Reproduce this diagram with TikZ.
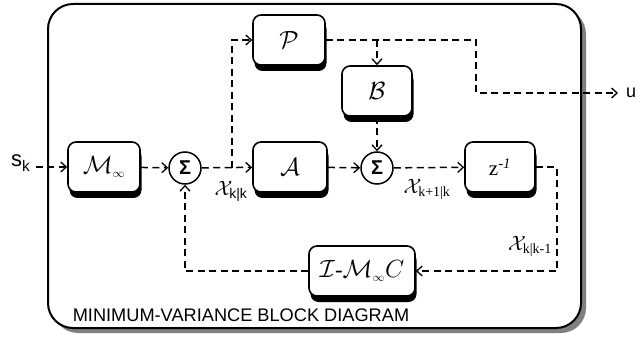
\documentclass[tikz,border=0pt]{standalone}
\usepackage{fontspec}
\setmainfont{Liberation Sans}
\newfontfamily\tnr{Liberation Serif}
\usetikzlibrary{arrows.meta,shadows}
\tikzset{
  blk/.style={draw, rectangle, rounded corners=8pt, line width=1.6pt, fill=white,
    minimum width=72pt, minimum height=50pt, inner sep=0pt,
    drop shadow={shadow xshift=1.5pt, shadow yshift=-6pt, fill=black, opacity=1},
    font=\fontsize{23}{26}\selectfont},
  sumnode/.style={draw, circle, line width=1.5pt, fill=white, minimum size=32pt, inner sep=0pt,
    font=\fontsize{20}{22}\selectfont\bfseries},
  arr/.style={line width=1.5pt, dash pattern=on 7pt off 4.5pt,
    -{Straight Barb[length=5.5pt,width=10pt,line width=1.3pt]}},
  lbl/.style={inner sep=0pt, font=\fontsize{18}{20}\selectfont},
  xl/.style={inner sep=0pt, font=\fontsize{22}{24}\selectfont}
}
\begin{document}
\begin{tikzpicture}[x=1pt,y=-1pt]
\useasboundingbox (0,0) rectangle (637,339);
% outer frame
\draw[line width=2pt, rounded corners=25pt, fill=white,
  drop shadow={shadow xshift=5pt, shadow yshift=-5pt, fill=black!50, opacity=1}]
  (48,4) rectangle (581,328);
% blocks
\node[blk] (M) at (104,167) {$\mathcal{M}_{\scriptscriptstyle\infty}$};
\node[blk, minimum width=74pt] (A) at (290,167) {$\mathcal{A}$};
\node[blk, minimum width=70pt, font=\fontsize{21}{24}\selectfont] (Z) at (500,167) {{\tnr z\textsuperscript{\itshape -1}}};
\node[blk] (P) at (289,40) {$\mathcal{P}$};
\node[blk, minimum width=70pt] (B) at (377,91) {$\mathcal{B}$};
\node[blk, minimum width=106pt] (IMC) at (362,271) {$\mathcal{I}\mbox{\tnr -}\mathcal{M}_{\scriptscriptstyle\infty}C$};
% summing junctions
\node[sumnode] (S1) at (185,168) {Σ};
\node[sumnode] (S2) at (377,168) {Σ};
% outside labels
\node[lbl, anchor=base west, font=\fontsize{22}{24}\selectfont] (sk) at (11,167) {s\textsubscript{k}};
\node[lbl, anchor=west] (u) at (626,93) {u};
% signal labels
\node[xl] (xkk) at (231,191) {$\mathcal{X}_{\hbox{\fontsize{14}{14}\selectfont k|k}}$};
\node[xl] (xk1k) at (427,189) {$\mathcal{X}_{\hbox{\fontsize{14}{14}\selectfont\tnr k+1|k}}$};
\node[xl] (xkk1) at (530,246) {$\mathcal{X}_{\hbox{\fontsize{14}{14}\selectfont\tnr k|k-1}}$};
\node[anchor=base, inner sep=0pt, font=\fontsize{18.2}{20}\selectfont] (title) at (241,321) {MINIMUM-VARIANCE BLOCK DIAGRAM};
% coordinates
\coordinate (br) at (232,168);
\coordinate (pu) at (476,93);
\coordinate (fb) at (557,271);
% connectors
\draw[arr] ([xshift=5pt]sk.east |- M.west) -- (M.west);
\draw[arr] (M) -- (S1);
\draw[arr] (S1) -- (A);
\draw[arr] (br) |- (P.west);
\draw[arr] (A) -- (S2);
\draw[arr] (S2) -- (Z);
\draw[arr] (P.east) -| (pu) -- ([xshift=-8pt]u.west);
\draw[arr] (P.east -| B.north) -- (B.north);
\draw[arr] (B) -- (S2);
\draw[arr] (Z.east) -| (fb) -- (IMC.east);
\draw[arr] (IMC.west) -| (S1.south);
\end{tikzpicture}
\end{document}
